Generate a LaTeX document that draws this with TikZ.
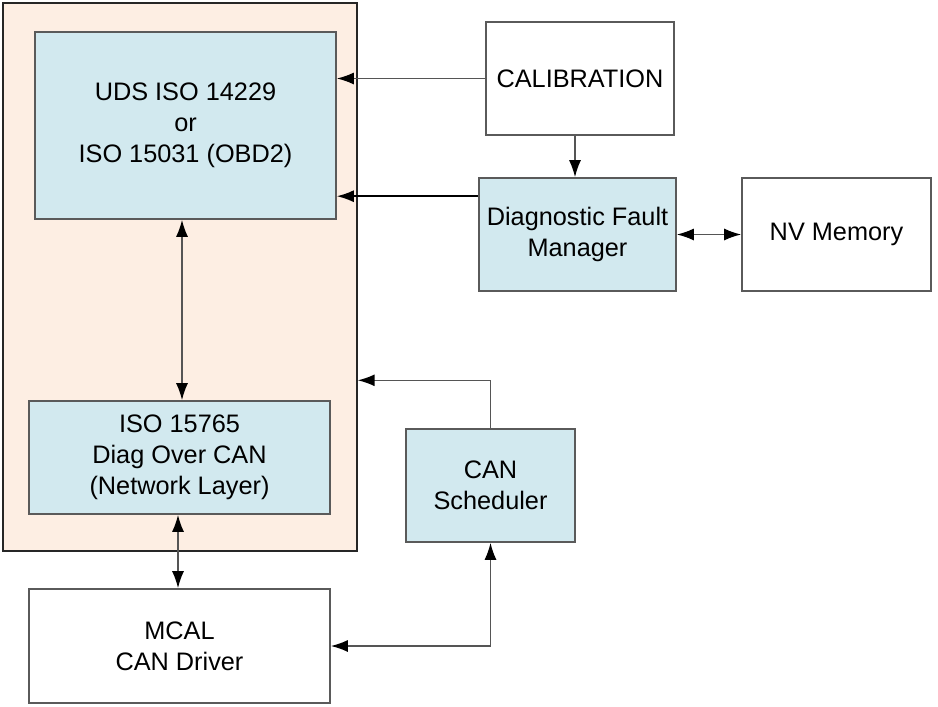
\documentclass[tikz,border=0pt]{standalone}
\usepackage{fontspec}
\setmainfont{Liberation Sans}
\usetikzlibrary{arrows.meta}
\definecolor{peach}{HTML}{FDEEE3}
\definecolor{lblue}{HTML}{D2E9EF}
\definecolor{edge}{HTML}{5A5A5A}
\definecolor{wire}{HTML}{555555}
\begin{document}
\begin{tikzpicture}[x=1pt,y=-1pt,
  blk/.style={draw=edge,line width=1.6pt,rectangle,align=center,inner sep=0pt,
    font=\fontsize{25.3}{31}\selectfont},
  blue/.style={blk,fill=lblue},
  white/.style={blk,fill=white},
  tip/.style={},
  conn/.style={draw=wire,line width=1.6pt,-{Latex[length=17pt,width=12pt,color=black]}},
  bconn/.style={draw=wire,line width=1.6pt,{Latex[length=17pt,width=12pt,color=black]}-{Latex[length=17pt,width=12pt,color=black]}}]
\useasboundingbox (0,0) rectangle (938,707);
\node[draw=black!85,line width=1.4pt,fill=peach,minimum width=354pt,minimum height=548pt,inner sep=0pt] (outer) at (180,277) {};
\node[blue,minimum width=301pt,minimum height=187pt] (uds) at (185.5,125.5) {UDS ISO 14229\\or\\ISO 15031 (OBD2)};
\node[blue,minimum width=301pt,minimum height=113pt] (iso) at (179.5,457.5) {ISO 15765\\Diag Over CAN\\(Network Layer)};
\node[white,minimum width=188pt,minimum height=113pt] (cal) at (580,78.5) {CALIBRATION};
\node[blue,minimum width=197pt,minimum height=113pt] (dfm) at (577.5,234.5) {Diagnostic Fault\\Manager};
\node[white,minimum width=189pt,minimum height=113pt] (nv) at (836.5,234.5) {NV Memory};
\node[blue,minimum width=169pt,minimum height=113pt] (sched) at (490.5,485.5) {CAN\\Scheduler};
\node[white,minimum width=301pt,minimum height=114pt] (mcal) at (179.5,646) {MCAL\\CAN Driver};
% connectors
\draw[conn] (cal.west) -- (cal.west -| uds.east);
\draw[conn,draw=black] ([yshift=-19pt]dfm.north west) -- ([yshift=-19pt]dfm.north west -| uds.east);
\draw[conn] ([xshift=-5pt]cal.south) -- ([xshift=-5pt]cal.south |- dfm.north);
\draw[bconn] (dfm.east) -- (nv.west);
\draw[bconn] ([xshift=-3.5pt]uds.south) -- ([xshift=-3.5pt]uds.south |- iso.north);
\draw[bconn] ([xshift=-1.5pt]iso.south) -- ([xshift=-1.5pt]iso.south |- mcal.north);
\draw[conn] (sched.north) |- ([yshift=-378pt]outer.north east);
\draw[bconn] (mcal.east) -| (sched.south);
\end{tikzpicture}
\end{document}
